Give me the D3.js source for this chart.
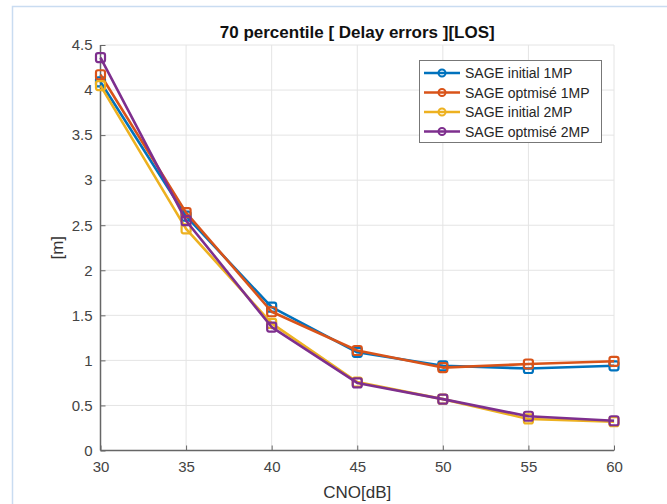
<!DOCTYPE html>
<html>
<head>
<meta charset="utf-8">
<script src="https://cdn.jsdelivr.net/npm/d3@7"></script>
<style>
  html, body { margin: 0; padding: 0; background: #fff; }
  svg { display: block; font-family: "Liberation Sans", Arial, Helvetica, sans-serif; }
</style>
</head>
<body>
<svg id="chart" width="667" height="504"></svg>
<script>
const cno = [30, 35, 40, 45, 50, 55, 60];
const seriesNames = ["SAGE initial 1MP", "SAGE optmisé 1MP", "SAGE initial 2MP", "SAGE optmisé 2MP"];
const sageInitial1MP = [4.09, 2.60, 1.59, 1.09, 0.94, 0.91, 0.94];
const sageOptimise1MP = [4.17, 2.64, 1.54, 1.11, 0.92, 0.96, 0.99];
const sageInitial2MP = [4.05, 2.46, 1.41, 0.76, 0.57, 0.35, 0.32];
const sageOptimise2MP = [4.36, 2.55, 1.37, 0.75, 0.57, 0.38, 0.33];
const seriesColors = ["#0072BD", "#D95319", "#EDB120", "#7E2F8E"];
const xTicks = [30, 35, 40, 45, 50, 55, 60];
const yTicks = [0, 0.5, 1, 1.5, 2, 2.5, 3, 3.5, 4, 4.5];
const titleText = "70 percentile [ Delay errors ][LOS]";
const xLabel = "CNO[dB]";
const yLabel = "[m]";

(function () {
const seriesValues = [sageInitial1MP, sageOptimise1MP, sageInitial2MP, sageOptimise2MP];

const svg = d3.select("#chart");
const pLeft = 100.5, pRight = 614, pTop = 45, pBottom = 450.5;

// figure border (light blue frame)
svg.append("path")
  .attr("d", "M12.5,504 L12.5,6.5 L667,6.5")
  .attr("fill", "none").attr("stroke", "#c9dcf1").attr("stroke-width", 1.5);

const x = d3.scaleLinear().domain([30, 60]).range([pLeft, pRight]);
const y = d3.scaleLinear().domain([0, 4.5]).range([pBottom, pTop]);

// grid
const grid = svg.append("g");
grid.selectAll(".vg").data(xTicks.filter(d => d > 30)).join("line")
  .attr("x1", d => x(d)).attr("x2", d => x(d)).attr("y1", pTop).attr("y2", pBottom)
  .attr("stroke", "#e4e4e4").attr("stroke-width", 1);
grid.selectAll(".hg").data(yTicks.filter(d => d > 0)).join("line")
  .attr("x1", pLeft).attr("x2", pRight).attr("y1", d => y(d)).attr("y2", d => y(d))
  .attr("stroke", "#e4e4e4").attr("stroke-width", 1);

// axes
const xAxis = d3.axisBottom(x).tickValues(xTicks).tickSize(-5).tickPadding(11).tickFormat(d3.format("d"));
const yAxis = d3.axisLeft(y).tickValues(yTicks).tickSize(-5).tickPadding(8).tickFormat(d => d3.format("~g")(d));

const gx = svg.append("g").attr("transform", `translate(0,${pBottom})`).call(xAxis);
const gy = svg.append("g").attr("transform", `translate(${pLeft},0)`).call(yAxis);
[gx, gy].forEach(g => {
  g.select(".domain").attr("stroke", "#666").attr("stroke-width", 1.5);
  g.selectAll(".tick line").attr("stroke", "#666").attr("stroke-width", 1);
  g.selectAll(".tick text").attr("fill", "#444").style("font-size", "15px")
    .style("font-family", "'Liberation Sans', Arial, sans-serif");
});
gx.select(".domain").attr("d", `M${pLeft},0H${pRight}`);
gy.select(".domain").attr("d", `M0,${pBottom}V${pTop}`);

// lines
const line = d3.line().x((d, i) => x(cno[i])).y(d => y(d));
seriesValues.forEach((vals, k) => {
  const g = svg.append("g");
  g.append("path").datum(vals).attr("d", line)
    .attr("fill", "none").attr("stroke", seriesColors[k]).attr("stroke-width", 2.6)
    .attr("stroke-linejoin", "round");
  g.selectAll("rect").data(vals).join("rect")
    .attr("x", (d, i) => x(cno[i]) - 4.5).attr("y", d => y(d) - 4.5)
    .attr("width", 9).attr("height", 9).attr("rx", 2)
    .attr("fill", "none").attr("stroke", seriesColors[k]).attr("stroke-width", 2.2);
});

// title
svg.append("text").attr("x", (pLeft + pRight) / 2).attr("y", 37.5)
  .attr("text-anchor", "middle").style("font-size", "17px").style("font-weight", "bold")
  .attr("fill", "#111").text(titleText);

// axis labels
svg.append("text").attr("x", (pLeft + pRight) / 2).attr("y", 498)
  .attr("text-anchor", "middle").style("font-size", "17px").attr("fill", "#333").text(xLabel);
svg.append("text").attr("transform", `translate(63,${(pTop + pBottom) / 2}) rotate(-90)`)
  .attr("text-anchor", "middle").style("font-size", "17px").attr("fill", "#333").text(yLabel);

// legend
const lg = svg.append("g").attr("transform", "translate(419,60)");
lg.append("rect").attr("x", 0.5).attr("y", 0.5).attr("width", 182).attr("height", 82)
  .attr("fill", "#fff").attr("stroke", "#777").attr("stroke-width", 1);
seriesNames.forEach((name, k) => {
  const yy = 13 + k * 19.5;
  lg.append("line").attr("x1", 5).attr("x2", 41).attr("y1", yy).attr("y2", yy)
    .attr("stroke", seriesColors[k]).attr("stroke-width", 2.6);
  lg.append("circle").attr("cx", 23).attr("cy", yy).attr("r", 3.5)
    .attr("fill", "none").attr("stroke", seriesColors[k]).attr("stroke-width", 2);
  lg.append("text").attr("x", 46).attr("y", yy + 5)
    .style("font-size", "14px").attr("fill", "#262626").text(name);
});
})();
</script>
</body>
</html>
